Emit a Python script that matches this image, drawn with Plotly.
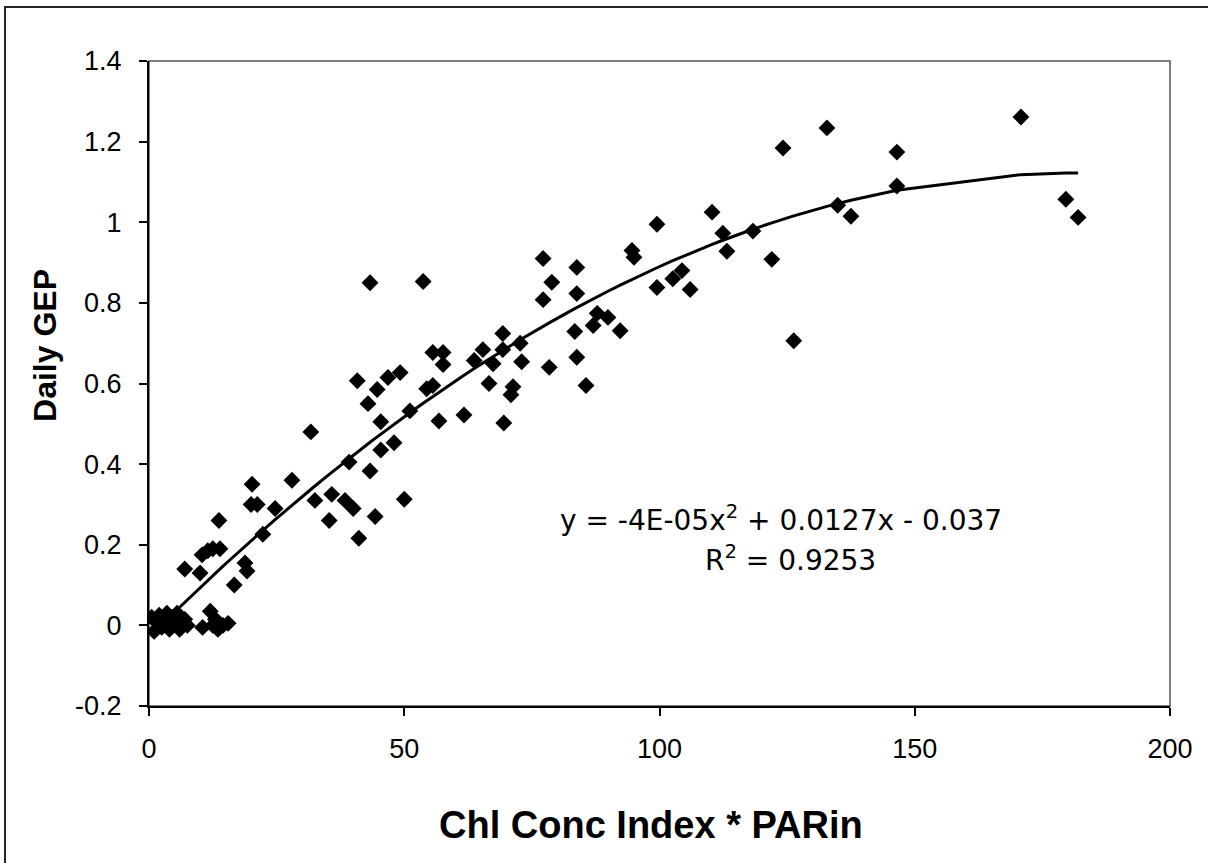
import numpy as np
import plotly.graph_objects as go

# ---- data ----
chl_par = [0.5, 1, 1.5, 2, 2.5, 3, 3.5, 4, 4.5, 5, 5.5, 6, 7, 7.5,
           10.5, 12, 12.5, 13, 13.5, 14.5, 15.5,
           7, 10, 10.4, 11.5, 12.5, 13.9, 13.7, 16.7, 18.8, 19.2, 20.2, 20, 21.2, 22.3,
           24.7, 28, 31.7, 32.5, 35.3, 35.8, 38.4, 39.2, 40, 41.1, 40.8, 42.9, 43.3, 43.3,
           44.3, 44.7, 45.4, 45.4, 46.8, 48, 49.2, 50, 51.1, 53.7, 54.4, 55.6, 55.6, 56.8,
           57.6, 57.6, 61.7, 63.7, 65.4, 66.6, 67.4, 69.3, 69.3, 69.5, 70.9, 71.3, 72.7, 73,
           77.2, 77.2, 78.4, 78.9, 83.4, 83.8, 83.8, 83.8, 85.6, 87, 87.8, 89.9, 92.3, 94.6,
           95, 99.5, 99.5, 102.6, 104.4, 106, 110.3, 112.4, 113.2, 118.3, 122, 124.2, 126.3,
           132.8, 134.9, 137.5, 146.5, 146.5, 170.8, 179.6, 182]
daily_gep = [0.02, -0.015, 0.01, 0.025, -0.005, 0.015, 0.03, -0.01, 0.02, 0.005, 0.03, -0.01, 0.015, 0.0,
             -0.005, 0.035, 0.0, 0.015, -0.01, 0.0, 0.005,
             0.14, 0.13, 0.175, 0.185, 0.19, 0.19, 0.26, 0.10, 0.155, 0.135, 0.35, 0.30, 0.30, 0.226,
             0.29, 0.36, 0.48, 0.31, 0.26, 0.325, 0.31, 0.405, 0.29, 0.216, 0.607, 0.55, 0.383, 0.85,
             0.27, 0.585, 0.435, 0.505, 0.615, 0.453, 0.627, 0.313, 0.532, 0.853, 0.587, 0.595, 0.677, 0.507,
             0.677, 0.647, 0.522, 0.657, 0.684, 0.60, 0.649, 0.724, 0.684, 0.502, 0.572, 0.592, 0.70, 0.654,
             0.91, 0.808, 0.64, 0.851, 0.729, 0.888, 0.823, 0.665, 0.595, 0.744, 0.774, 0.764, 0.731, 0.93,
             0.913, 0.995, 0.838, 0.86, 0.88, 0.833, 1.025, 0.973, 0.928, 0.978, 0.908, 1.184, 0.706,
             1.234, 1.042, 1.015, 1.174, 1.09, 1.261, 1.057, 1.012]

# polynomial trendline coefficients (a x^2 + b x + c), as drawn
trend_coeffs = [-3.5e-5, 0.0127, -0.030]
trend_start = 6.0
equation_text = "y = -4E-05x<sup>2</sup> + 0.0127x - 0.037"
r2_text = "R<sup>2</sup> = 0.9253"

x_tickvals = [0, 50, 100, 150, 200]
x_ticktext = ["0", "50", "100", "150", "200"]
y_tickvals = [-0.2, 0, 0.2, 0.4, 0.6, 0.8, 1.0, 1.2, 1.4]
y_ticktext = ["-0.2", "0", "0.2", "0.4", "0.6", "0.8", "1", "1.2", "1.4"]

x_title = "Chl Conc Index * PARin"
y_title = "Daily GEP"

# ---- trendline evaluated at the data x values (spreadsheet style) ----
tx = np.array(sorted(set([trend_start] + [v for v in chl_par if v >= trend_start])))
ty = np.polyval(trend_coeffs, tx)

fig = go.Figure()
fig.add_trace(go.Scatter(
    x=chl_par, y=daily_gep, mode="markers",
    marker=dict(symbol="diamond", size=13, color="black", line=dict(width=0)),
    showlegend=False, hoverinfo="skip"))
fig.add_trace(go.Scatter(
    x=tx, y=ty, mode="lines", line=dict(color="black", width=3),
    showlegend=False, hoverinfo="skip"))

axis_font = dict(family="Liberation Sans, Arial, sans-serif", size=27, color="black")

fig.update_layout(
    width=1208, height=863,
    margin=dict(l=149, r=38, t=61, b=157),
    paper_bgcolor="white", plot_bgcolor="white",
    xaxis=dict(range=[0, 200], tickvals=x_tickvals, ticktext=x_ticktext,
               showgrid=False, zeroline=False, showline=True, linecolor="black",
               linewidth=2, ticks="outside", ticklen=8, tickwidth=1.5, tickcolor="black",
               tickfont=axis_font, ticklabelstandoff=10),
    yaxis=dict(range=[-0.2, 1.4], tickvals=y_tickvals, ticktext=y_ticktext,
               showgrid=False, zeroline=False, showline=True, linecolor="black",
               linewidth=2, ticks="outside", ticklen=8, tickwidth=1.5, tickcolor="black",
               tickfont=axis_font, ticklabelstandoff=12),
    shapes=[
        # plot-area frame
        dict(type="rect", xref="paper", yref="paper", x0=0, y0=0, x1=1, y1=1,
             line=dict(color="#555555", width=1.5), layer="below"),
        # outer figure border (left and top visible)
        dict(type="rect", xref="paper", yref="paper", x0=-0.141, y0=-0.26, x1=1.05, y1=1.0837,
             line=dict(color="#222222", width=2)),
    ],
    annotations=[
        dict(text=f"<b>{x_title}</b>", xref="paper", yref="paper", x=0.4917, y=-0.1845,
             showarrow=False, xanchor="center", yanchor="middle",
             font=dict(family="Liberation Sans, Arial, sans-serif", size=38, color="black")),
        dict(text=f"<b>{y_title}</b>", xref="paper", yref="paper", x=-0.1019, y=0.5597,
             showarrow=False, xanchor="center", yanchor="middle", textangle=-90,
             font=dict(family="Liberation Sans, Arial, sans-serif", size=32, color="black")),
        dict(text=equation_text, xref="x", yref="y", x=123.8, y=0.264,
             showarrow=False, xanchor="center", yanchor="middle",
             font=dict(family="DejaVu Sans, Verdana, sans-serif", size=28, color="black")),
        dict(text=r2_text, xref="x", yref="y", x=125.6, y=0.167,
             showarrow=False, xanchor="center", yanchor="middle",
             font=dict(family="DejaVu Sans, Verdana, sans-serif", size=28, color="black")),
    ],
)

fig.write_html("out.html", config={"displayModeBar": False},
               post_script="document.body.style.margin='0';document.body.style.overflow='hidden';")
